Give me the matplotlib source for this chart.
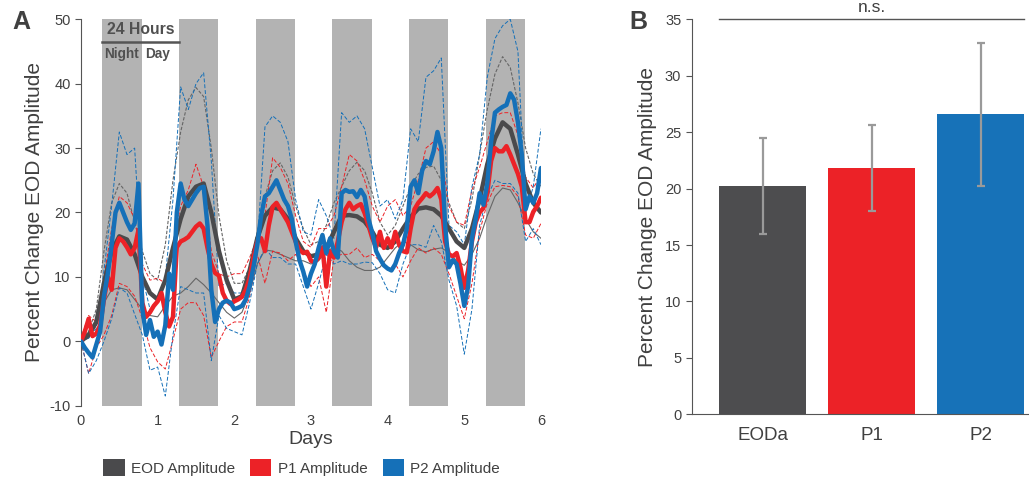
import numpy as np
import matplotlib.pyplot as plt
from matplotlib.patches import Patch

plt.rcParams['font.family'] = ['Liberation Sans', 'DejaVu Sans']
plt.rcParams['axes.unicode_minus'] = False

# colours
c_eod = '#4a4a4c'
c_p1 = '#ec2227'
c_p2 = '#1570b8'
c_txt = '#404040'

# ---- panel A data ----
days_c = np.round(np.arange(0, 6.01, 0.1), 2)   # 0.1 day grid
days_f = np.round(np.arange(0, 6.001, 0.05), 2)  # 0.05 day grid

eod_mean = [0, 1, 3, 9, 14, 16.3, 15.8, 13.5, 10, 7.5,
            6.5, 9.5, 14.5, 19, 22.5, 24, 24.5, 20, 14, 9.5,
            6.5, 7, 11, 16, 19.5, 20.8, 20.5, 19, 16, 14,
            13.2, 13.5, 14.5, 17, 19.5, 19.6, 19.4, 18.6, 17, 15,
            14.5, 15.5, 17.5, 19.3, 20.6, 20.8, 20.5, 19.5, 17.5, 15.5,
            14.5, 17.5, 22, 27.5, 31.5, 34, 33, 29, 24.5, 21.5, 20]
eod_upper = [0.5, 1.5, 5, 14, 21.5, 24.5, 23, 18.5, 14, 10.5,
             9.5, 15, 25, 32.5, 37.5, 39.4, 38, 30, 19.5, 12.5,
             9, 9, 11.5, 17, 22.5, 26.5, 27.7, 25.5, 21, 17.5,
             15, 15.5, 18, 21.5, 24, 26.5, 27.8, 26.5, 23, 18.5,
             16.5, 18, 21, 24, 26, 27, 27.2, 25, 21.5, 18.5,
             17.5, 22, 29, 36, 41.5, 44.2, 42.5, 37, 30, 26, 24]
eod_lower = [0, 0.5, 2.5, 6, 8, 8.3, 8, 6.5, 5, 4,
             3.8, 5.5, 7, 7.5, 8.5, 9.8, 8.8, 7.5, 6, 4.5,
             3.6, 4.5, 7.5, 12, 14.2, 14, 13.5, 13, 12.5, 12.5,
             12, 12.5, 14, 14.6, 14, 12.5, 11.5, 11, 11, 11.5,
             13, 14.5, 15.5, 15, 14.2, 13.9, 14.3, 14.5, 13.8, 12.5,
             11.8, 13.5, 16, 19.5, 22.5, 23.8, 23.5, 21.5, 19, 17, 16]

p1_mean = [0, 1.5, 3.5, 0.8, 1.2, 2.5, 6.5, 10, 8, 14.5,
           16, 15.5, 14.6, 13.5, 14.5, 17.3, 6, 3.8, 4.5, 5.5,
           6.2, 7.5, 4.5, 2.3, 3.8, 14.6, 15.5, 15.8, 16.2, 17,
           17.8, 18.3, 17.5, 14.5, 12, 10.6, 10.2, 7.5, 6.3, 5.8,
           6.2, 6.5, 6.9, 8, 9.8, 13, 15.5, 16, 14, 18,
           20.9, 21.5, 20.5, 19.5, 18.5, 17, 15.5, 14.2, 13.7, 13.9,
           12.5, 12.3, 13, 14.6, 8.5, 14, 13, 15.5, 18.5, 20.5,
           21.5, 20.5, 21, 21.3, 19.9, 18, 16, 14.6, 17, 14.5,
           16, 14.6, 17, 15, 14, 13.8, 17.5, 20.5, 21.5, 22.2,
           23, 22.5, 23, 23.8, 22, 15.5, 13.5, 13.2, 13.7, 11.5,
           8.3, 11, 15.5, 18.5, 20, 20.7, 23, 28, 30, 29.5,
           29.5, 30.3, 29, 27.5, 26, 24, 18.5, 18.5, 20.1, 21, 22.3]
p1_upper = [0.5, 4, 3, 10, 17.5, 22.5, 21.5, 19, 12, 9.5,
            9.8, 9, 15, 21, 23.5, 27.5, 24, 14, 10.5, 10,
            10.5, 10.5, 13, 16, 19.5, 28.5, 27, 24.5, 19.5, 15.5,
            14.6, 17.5, 17.5, 19.5, 24, 29, 28, 25, 21, 18.5,
            21, 22, 19.5, 21, 25, 30, 31, 29, 21, 18.5,
            18, 23.5, 27, 31, 35, 35.5, 35.5, 32, 25.5, 23.8, 25.8]
p1_lower = [0, -5, -1, 1, 4, 9, 8.5, 7, 3.5, -1,
            -3.2, -4.3, 0.2, 5, 6, 6, 4, -2.5, 0, 2.3,
            3, 3, 7, 13.5, 9, 14, 13.7, 12.5, 13.5, 11,
            8.5, 10, 4.5, 13, 13.5, 13.5, 14.5, 13, 13.5, 12.5,
            11, 12, 10, 12.5, 14.5, 13.7, 14.5, 13.5, 10.5, 7,
            3.5, 9, 17, 21.5, 24, 24.2, 24, 22.5, 16.5, 16, 18.3]

p2_mean = [0, -1, -1.8, -2.5, -0.5, 1.5, 7, 10.5, 15, 20,
           21.5, 20, 18.5, 17.3, 18.3, 24.5, 5, 1, 3.3, 0.7,
           1.5, -0.5, 2.5, 10.5, 8, 20, 24.5, 22, 21, 22,
           23, 23.8, 24, 18, 8, 3, 5, 6, 6.3, 6,
           5, 5.2, 5.5, 6.5, 8.5, 11.5, 15, 19.5, 22.5, 23,
           24, 25, 23.5, 22, 21, 19, 15.5, 12.6, 10.8, 8.5,
           10.5, 12, 14.5, 16.5, 13.7, 16, 14, 13, 23, 23.5,
           23.2, 23.3, 22.4, 23.5, 22.5, 19, 16.8, 14, 12.8, 11.8,
           11.3, 11, 12, 13.7, 15, 17.5, 24, 25, 23, 26.5,
           28, 27.5, 29.5, 32.5, 30, 18, 11.5, 12.6, 12, 9,
           5.5, 8.5, 16, 19, 23, 21.2, 24.5, 31, 35.5, 36,
           36.4, 36.7, 38.5, 37.5, 34, 29, 20.5, 22.5, 21.5, 23, 26.9]
p2_upper = [0, 0.5, 2, 11, 21, 32.5, 29, 30, 10, 5,
            6, 10, 22, 39.5, 36, 40, 41.7, 28, 8.5, 9,
            7.5, 7.5, 10.5, 15, 33.3, 35, 34, 31, 22, 17,
            16.5, 22, 19.5, 16, 35.5, 34, 35, 33, 27, 21,
            22, 19, 22, 33, 31, 41, 42, 44, 18, 17,
            15, 24, 29, 41, 47, 49, 50, 45, 20, 24, 33]
p2_lower = [0, -5, -3, 0, 3.5, 8.3, 7.5, 4.2, 1, -4.5,
            -4, -8.5, 1, 8.5, 8, 7.5, 7.5, -3, 4, 2,
            1.5, 1, 6, 12, 14.5, 13, 13, 12, 12, 8.5,
            5, 9, 13.5, 12, 12.5, 12, 12, 12.3, 12.2, 10.5,
            8, 7.5, 12, 15, 15, 14.6, 18, 15.5, 9.5, 5.5,
            -2, 5, 18, 22.5, 25, 24.5, 24.5, 23, 15.5, 17.5, 15]

night_offset = [0.28, 0.79]
day_numbers = [0, 1, 2, 3, 4, 5]

# ---- panel B data ----
bar_labels = ['EODa', 'P1', 'P2']
bar_values = [20.2, 21.8, 26.6]
bar_lo = [16.0, 18.0, 20.2]
bar_hi = [24.5, 25.6, 32.9]
bar_colors = ['#4d4d4f', '#ec2227', '#1772b8']

fig = plt.figure(figsize=(10.29, 4.8), dpi=100)

# ================= panel A =================
ax = fig.add_axes([0.0787, 0.1548, 0.447, 0.805])
for d in day_numbers:
    ax.axvspan(d + night_offset[0], d + night_offset[1], color='#b3b3b3', lw=0, zorder=0)

ax.plot(days_c, eod_upper, color='#666666', lw=0.8, ls=(0, (3, 1.5)), zorder=2)
ax.plot(days_c, eod_lower, color='#666666', lw=0.8, zorder=2)
ax.plot(days_c, p1_upper, color=c_p1, lw=0.7, ls=(0, (4, 2)), zorder=2)
ax.plot(days_c, p1_lower, color=c_p1, lw=0.7, ls=(0, (4, 2)), zorder=2)
ax.plot(days_c, p2_upper, color=c_p2, lw=0.7, ls=(0, (4, 2)), zorder=2)
ax.plot(days_c, p2_lower, color=c_p2, lw=0.7, ls=(0, (4, 2)), zorder=2)

ax.plot(days_c, eod_mean, color=c_eod, lw=3.2, zorder=3, solid_capstyle='round')
ax.plot(days_f, p1_mean, color=c_p1, lw=3.2, zorder=4, solid_capstyle='round')
ax.plot(days_f, p2_mean, color=c_p2, lw=3.2, zorder=5, solid_capstyle='round')

ax.set_xlim(0, 6)
ax.set_ylim(-10, 50)
ax.set_xticks(range(7))
ax.set_yticks(range(-10, 51, 10))
for s in ['top', 'right', 'bottom']:
    ax.spines[s].set_visible(False)
ax.spines['left'].set_color('#555555')
ax.tick_params(axis='y', length=4, color='#555555', labelcolor=c_txt, labelsize=10.5)
ax.tick_params(axis='x', length=0, labelcolor=c_txt, labelsize=10.5, pad=6)
ax.set_xlabel('Days', fontsize=14, color=c_txt, labelpad=2)
ax.set_ylabel('Percent Change EOD Amplitude', fontsize=15, color=c_txt, labelpad=4)

# 24 hours annotation
ax.plot([0.28, 1.28], [46.5, 46.5], color='#555555', lw=1.8, zorder=6)
ax.text(0.78, 47.2, '24 Hours', ha='center', va='bottom', fontsize=11.3,
        fontweight='bold', color='#505050', zorder=6)
ax.text(0.53, 44.6, 'Night', ha='center', va='center', fontsize=9.8,
        fontweight='bold', color='#505050', zorder=6)
ax.text(1.0, 44.6, 'Day', ha='center', va='center', fontsize=9.8,
        fontweight='bold', color='#505050', zorder=6)

fig.text(0.012, 0.955, 'A', fontsize=18, fontweight='bold', color=c_txt, va='center')

handles = [Patch(facecolor=c_eod, label='EOD Amplitude'),
           Patch(facecolor=c_p1, label='P1 Amplitude'),
           Patch(facecolor=c_p2, label='P2 Amplitude')]
fig.legend(handles=handles, loc='center', bbox_to_anchor=(0.293, 0.026), ncol=3,
           frameon=False, fontsize=11, handlelength=1.4, handleheight=1.4,
           handletextpad=0.4, columnspacing=1.0, labelcolor=c_txt)

# ================= panel B =================
bx = fig.add_axes([0.6722, 0.1369, 0.3273, 0.8229])
xpos = np.arange(len(bar_labels))
bx.bar(xpos, bar_values, width=0.8, color=bar_colors, zorder=2)
yerr = [np.array(bar_values) - np.array(bar_lo), np.array(bar_hi) - np.array(bar_values)]
bx.errorbar(xpos, bar_values, yerr=yerr, fmt='none', ecolor='#9a9a9a',
            elinewidth=1.6, capsize=3, capthick=1.6, zorder=3)
bx.set_xlim(-0.653, 2.44)
bx.set_ylim(0, 35)
bx.set_yticks(range(0, 36, 5))
bx.set_xticks(xpos)
bx.set_xticklabels(bar_labels)
for s in ['top', 'right']:
    bx.spines[s].set_visible(False)
bx.spines['left'].set_color('#555555')
bx.spines['bottom'].set_color('#555555')
bx.tick_params(axis='y', length=4, color='#555555', labelcolor=c_txt, labelsize=10.5)
bx.tick_params(axis='x', length=0, labelcolor=c_txt, labelsize=13.5, pad=9)
bx.set_ylabel('Percent Change EOD Amplitude', fontsize=15, color=c_txt, labelpad=6)

bx.plot([-0.4, 2.4], [35, 35], color='#555555', lw=1, clip_on=False)
bx.text(1.0, 35.4, 'n.s.', ha='center', va='bottom', fontsize=12.5, color=c_txt)

fig.text(0.612, 0.955, 'B', fontsize=18, fontweight='bold', color=c_txt, va='center')

fig.savefig('out.png', dpi=100)
